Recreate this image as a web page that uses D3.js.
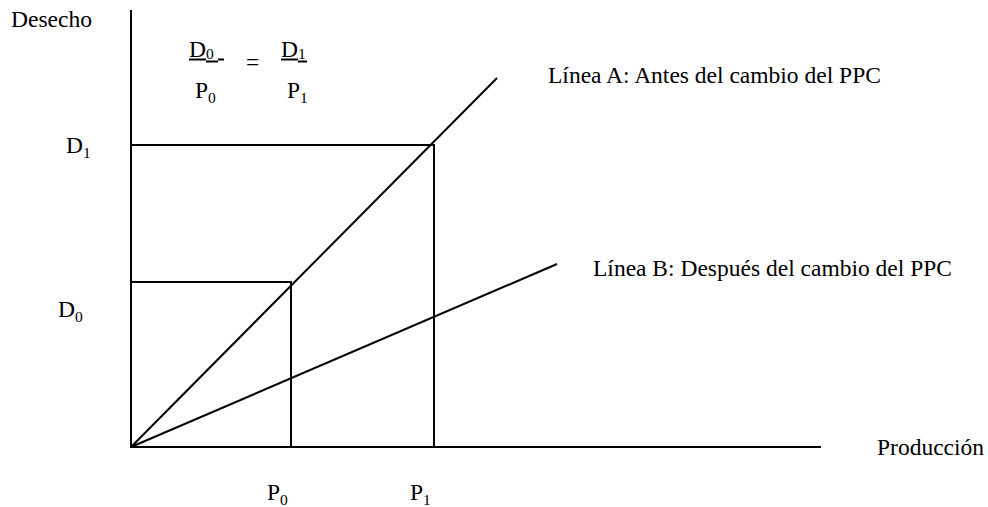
<!DOCTYPE html>
<html>
<head>
<meta charset="utf-8">
<script src="https://cdn.jsdelivr.net/npm/d3@7"></script>
<style>
  body { margin: 0; background: #fff; }
  text { font-family: "Liberation Serif", "Times New Roman", serif; fill: #000; }
</style>
</head>
<body>
<div id="chart"></div>
<script>
// values in abstract chart units
const prodLevels = [160, 303];        // P0, P1
const wasteLevels = [165, 302];       // D0, D1
const levelSubs = ["0", "1"];         // subscripts
const lineA = [[0, 0], [366, 369]];
const lineB = [[0, 0], [426, 183]];
const seriesNames = ["Línea A: Antes del cambio del PPC", "Línea B: Después del cambio del PPC"];
const axisNames = ["Producción", "Desecho"];

const w = 988, h = 507;
const fs = 23.5;

const svg = d3.select("#chart").append("svg")
    .attr("width", w)
    .attr("height", h);

const xScale = d3.scaleLinear().domain([0, 690]).range([131, 821]);
const yScale = d3.scaleLinear().domain([0, 437]).range([447, 10]);

const line = d3.line().x(d => xScale(d[0])).y(d => yScale(d[1]));

// axes
svg.append("path")
    .attr("d", line([[0, 437], [0, 0], [690, 0]]))
    .attr("fill", "none").attr("stroke", "#000").attr("stroke-width", 2);

// guide lines for (P0,D0) and (P1,D1)
prodLevels.forEach((p, i) => {
    svg.append("path")
        .attr("d", line([[0, wasteLevels[i]], [p, wasteLevels[i]], [p, 0]]))
        .attr("fill", "none").attr("stroke", "#000").attr("stroke-width", 2);
});

// the two lines
[lineA, lineB].forEach(pts => {
    svg.append("path")
        .attr("d", line(pts))
        .attr("fill", "none").attr("stroke", "#000").attr("stroke-width", 2);
});

// letter with subscript
function subLabel(x, y, letter, sub, dy) {
    const t = svg.append("text")
        .attr("x", x).attr("y", y)
        .attr("font-size", fs);
    t.append("tspan").text(letter);
    t.append("tspan").attr("font-size", 15.5).attr("dy", dy || 5).text(sub);
    return t;
}

// x labels
prodLevels.forEach((p, i) => {
    subLabel(xScale(p) - 24, 500, "P", levelSubs[i]);
});

// y labels
subLabel(66, 153, "D", levelSubs[1]);
subLabel(58, 317, "D", levelSubs[0]);

// axis names
svg.append("text").attr("x", 11).attr("y", 27).attr("font-size", fs).text(axisNames[1]);
svg.append("text").attr("x", 877).attr("y", 455).attr("font-size", fs).text(axisNames[0]);

// series labels
svg.append("text").attr("x", 548).attr("y", 83).attr("font-size", fs).text(seriesNames[0]);
svg.append("text").attr("x", 593).attr("y", 276).attr("font-size", fs).text(seriesNames[1]);

// ratio formula, numerators underlined
subLabel(189, 57, "D", levelSubs[0], 2);
subLabel(281, 57, "D", levelSubs[1], 2);
const underlines = [[189, 206, 59.5], [206, 218, 61.5], [218, 224, 59.5], [281, 298, 59.5], [298, 307, 61.5]];
underlines.forEach(u => {
    svg.append("line").attr("x1", u[0]).attr("x2", u[1]).attr("y1", u[2]).attr("y2", u[2])
        .attr("stroke", "#000").attr("stroke-width", 2);
});
svg.append("text").attr("x", 246).attr("y", 70).attr("font-size", fs).text("=");
subLabel(195, 98, "P", levelSubs[0]);
subLabel(287, 98, "P", levelSubs[1]);
</script>
</body>
</html>
